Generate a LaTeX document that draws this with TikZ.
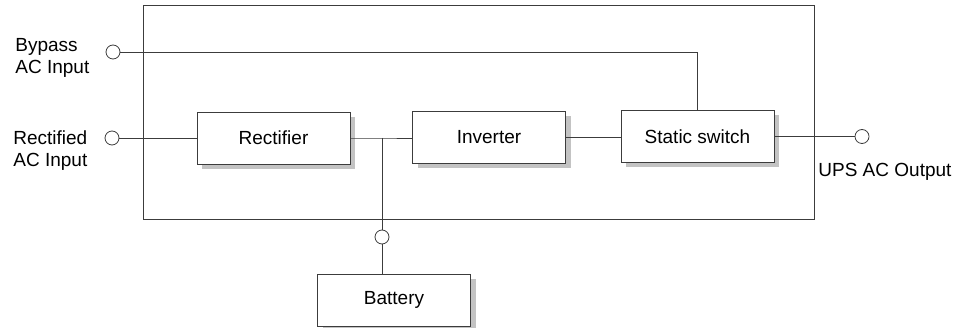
\documentclass[tikz,border=0pt]{standalone}
\usepackage{fontspec}
\setmainfont{Liberation Sans}
\usepackage{tikz}
\usetikzlibrary{shadows}
\definecolor{wire}{RGB}{60,60,60}
\definecolor{shade}{RGB}{195,195,195}
\tikzset{
  unit/.style={draw=wire, fill=white, minimum width=153pt, minimum height=52pt,
    drop shadow={shadow xshift=5pt, shadow yshift=-5pt, fill=shade, opacity=1}},
  port/.style={circle, draw=wire, fill=white, minimum size=14pt, inner sep=0pt},
  caption/.style={anchor=north west, align=left, inner sep=0pt}
}
\newcommand{\labelfont}{\fontsize{19}{22.5}\selectfont}
\begin{document}
\begin{tikzpicture}[x=1pt,y=-1pt,line width=0.8pt,font=\labelfont]
\useasboundingbox (0,0) rectangle (969,328);
% outer cabinet
\draw[wire] (143,5) rectangle (814,219);
% blocks
\node[unit] (rect) at (273.5,138) {Rectifier};
\node[unit] (inv) at (489,137) {Inverter};
\node[unit] (sw) at (697.5,136.5) {Static switch};
\node[unit] (bat) at (394,300) {Battery};
% terminals
\node[port] (bypass) at (113,52) {};
\node[port] (acin) at (112,138) {};
\node[port] (out) at (862,136.5) {};
\node[port] (batport) at (382,237) {};
\coordinate (tap) at (382,138);
% wiring
\draw[wire] (bypass) -- (bypass -| sw.north) -- (sw.north);
\draw[wire] (acin) -- (rect.west);
\draw[wire] (rect.east) -- (tap) -- (inv.west |- tap);
\draw[wire] (inv.east) -- (sw.west |- inv.east);
\draw[wire] (sw.east) -- (out);
\draw[wire] (tap) -- (batport) -- (bat.north -| batport);
% texts
\node[caption] (bypasstxt) at (15,38) {Bypass\\AC Input};
\node[caption] (acintxt) at (13,130) {Rectified\\AC Input};
\node[caption] (outtxt) at (818,163) {UPS AC Output};
\end{tikzpicture}
\end{document}
